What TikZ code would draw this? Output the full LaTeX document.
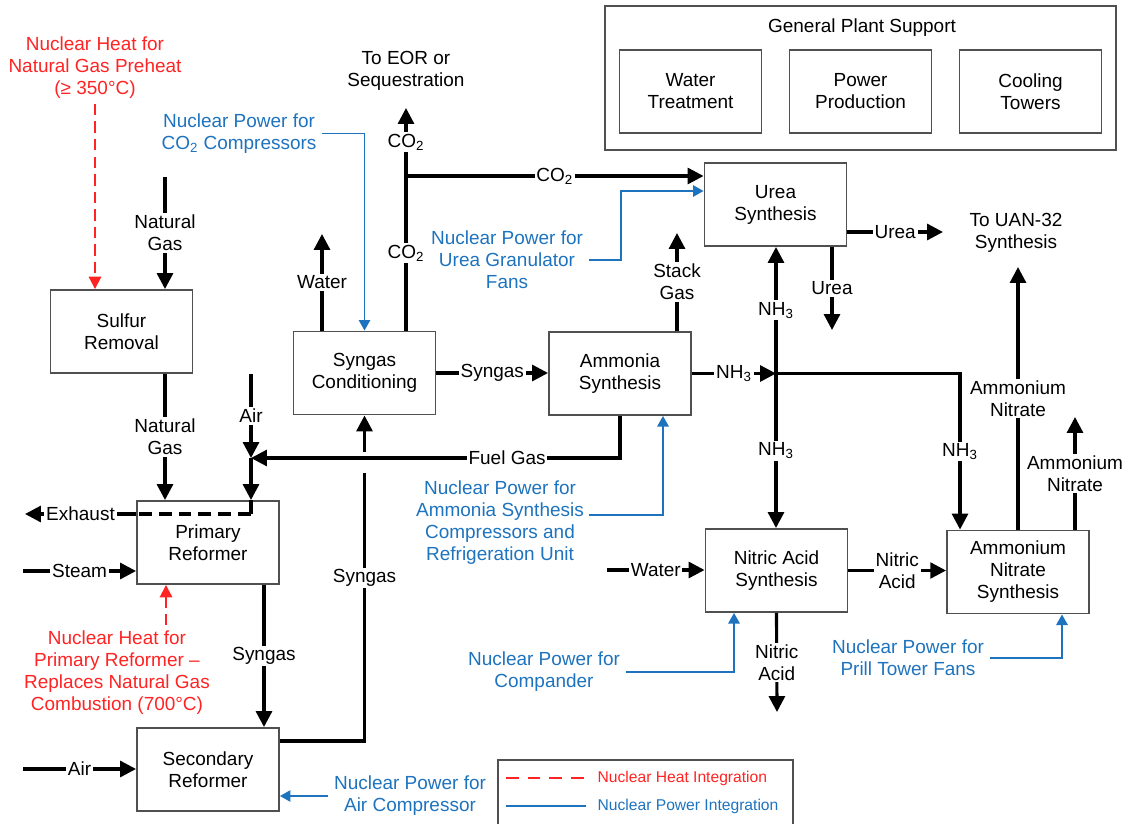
\documentclass[tikz,border=0pt]{standalone}
\usepackage{fontspec}
\setmainfont{Liberation Sans}
\usepackage{xcolor}
\usepackage{tikz}
\usetikzlibrary{arrows.meta}
\definecolor{nred}{RGB}{255,35,35}
\definecolor{nblue}{RGB}{30,115,190}
\definecolor{edge}{RGB}{80,80,80}

\begin{document}
\begin{tikzpicture}[
  x=0.02cm, y=-0.02cm,
  font=\fontsize{10.8}{12.5}\selectfont,
  unit/.style={draw=edge, line width=1.1pt, minimum width=2.84cm,
               minimum height=1.66cm, align=center, inner sep=1pt},
  note/.style={align=center, inner sep=3pt},
  tag/.style={fill=white, inner sep=1pt, align=center},
  pipe/.style={line width=1.8pt},
  flow/.style={-{Triangle[length=9pt,width=9pt]}, line width=1.8pt},
  heat/.style={-{Triangle[length=7pt,width=7pt]}, nred, line width=1.1pt,
               dash pattern=on 6.5pt off 3.5pt},
  power/.style={-{Triangle[length=6pt,width=6.5pt]}, nblue, line width=0.9pt},
]
\useasboundingbox (0,0) rectangle (1125,824);
\clip (0,0) rectangle (1125,824);

% process units
\node[unit] (sulf) at (121.5,331.5) {Sulfur\\Removal};
\node[unit] (prim) at (208,542.5) {Primary\\Reformer};
\node[unit] (sec)  at (208,769.5) {Secondary\\Reformer};
\node[unit] (sync) at (364.5,373) {Syngas\\Conditioning};
\node[unit] (amm)  at (620,373.5) {Ammonia\\Synthesis};
\node[unit] (urea) at (775.5,204.5) {Urea\\Synthesis};
\node[unit] (nitr) at (776.5,570.5) {Nitric Acid\\Synthesis};
\node[unit] (an)   at (1018,572) {Ammonium\\Nitrate\\Synthesis};

% general plant support
\node[unit, minimum width=10.22cm, minimum height=2.88cm] (gps) at (860.5,78) {};
\node[note] (gpst) at (862,28) {General Plant Support};
\node[unit] (wt) at (690.5,91.5) {Water\\Treatment};
\node[unit] (pp) at (860.5,91.5) {Power\\Production};
\node[unit] (ct) at (1030.5,91.5) {Cooling\\Towers};

% destinations
\node[note] (eor) at (406,71) {To EOR or\\Sequestration};
\node[note] (uan) at (1016,232.5) {To UAN-32\\Synthesis};

% nuclear heat and power notes
\node[note, nred] (hng) at (95,67.5) {Nuclear Heat for\\Natural Gas Preheat\\(≥ 350°C)};
\node[note, nred] (hpr) at (117,672.5) {Nuclear Heat for\\Primary Reformer –\\Replaces Natural Gas\\Combustion (700°C)};
\node[note, nblue] (pco2) at (239,133.5) {Nuclear Power for\\CO\textsubscript{2} Compressors};
\node[note, nblue] (pur) at (507,260) {Nuclear Power for\\Urea Granulator\\Fans};
\node[note, nblue] (pamm) at (500,523) {Nuclear Power for\\Ammonia Synthesis\\Compressors and\\Refrigeration Unit};
\node[note, nblue] (pcomp) at (544,672) {Nuclear Power for\\Compander};
\node[note, nblue] (pprill) at (908,658) {Nuclear Power for\\Prill Tower Fans};
\node[note, nblue] (pair) at (410,796) {Nuclear Power for\\Air Compressor};

% free ends and junctions
\coordinate (ngin) at (165,177);
\coordinate (airin) at (251,374);
\coordinate (airj) at (251,458);
\coordinate (exj) at (251,514);
\coordinate (exout) at (25,514);
\coordinate (steamin) at (23,571);
\coordinate (airsec) at (23,769);
\coordinate (hopb) at (364.5,473);
\coordinate (hopt) at (364.5,452);
\coordinate (wout) at (322,234);
\coordinate (co2j) at (406,176);
\coordinate (co2out) at (406,108);
\coordinate (stack) at (677,233);
\coordinate (nh3j) at (776,373.5);
\coordinate (ureaout) at (943,232);
\coordinate (ureadown) at (832,330);
\coordinate (anout) at (1018,267);
\coordinate (anout2) at (1075,417);
\coordinate (nadown) at (777,712);
\coordinate (waterin) at (607,570);
\coordinate (purb) at (621,0);
\coordinate (hx) at ([xshift=-0.84cm]prim.south);

% reforming train
\draw[flow] (ngin) -- node[tag]{Natural\\Gas} (ngin |- sulf.north);
\draw[flow] (ngin |- sulf.south) -- node[tag]{Natural\\Gas} (ngin |- prim.north);
\draw[flow] (airin) -- node[tag]{Air} (airj);
\draw[flow] (airj) -- (airj |- prim.north);
\draw[flow] (amm.south) |- node[tag, pos=0.653]{Fuel Gas} (airj);
\draw[pipe] (airj |- prim.north) -- (exj);
\draw[pipe, dash pattern=on 7.3pt off 4pt] (exj) -- (exj -| prim.west);
\draw[flow] (exj -| prim.west) -- node[tag]{Exhaust} (exout);
\draw[flow] (steamin) -- node[tag]{Steam} (steamin -| prim.west);
\draw[flow] (airsec) -- node[tag]{Air} (airsec -| sec.west);
\draw[flow] ([xshift=1.12cm]prim.south) -- node[tag]{Syngas} ([xshift=1.12cm]sec.north);
\draw[pipe] ([yshift=0.57cm]sec.east) -| node[tag, pos=0.804]{Syngas} (hopb);
\draw[flow] (hopt) -- (sync.south);

% conditioning and synthesis
\draw[flow] (wout |- sync.north) -- node[tag]{Water} (wout);
\draw[pipe] (co2j |- sync.north) -- node[tag]{CO\textsubscript{2}} (co2j);
\draw[flow] (co2j) -- node[tag]{CO\textsubscript{2}} (co2out);
\draw[flow] (co2j) -- node[tag]{CO\textsubscript{2}} (co2j -| urea.west);
\draw[flow] (sync.east) -- node[tag]{Syngas} (sync.east -| amm.west);
\draw[flow] (stack |- amm.north) -- node[tag]{Stack\\Gas} (stack);
\draw[flow] (amm.east) -- node[tag]{NH\textsubscript{3}} (nh3j);
\draw[flow] (nh3j) -- node[tag]{NH\textsubscript{3}} (nh3j |- urea.south);
\draw[flow] (nh3j) -- node[tag]{NH\textsubscript{3}} (nh3j |- nitr.north);
\draw[flow] (nh3j) -| node[tag, pos=0.75]{NH\textsubscript{3}} ([xshift=-1.16cm]an.north);
\draw[flow] (ureaout -| urea.east) -- node[tag]{Urea} (ureaout);
\draw[flow] (ureadown |- urea.south) -- node[tag]{Urea} (ureadown);
\draw[flow] (an.north) -- node[tag]{Ammonium\\Nitrate} (anout);
\draw[flow] (anout2 |- an.north) -- node[tag]{Ammonium\\Nitrate} (anout2);
\draw[flow] (nitr.east) -- node[tag]{Nitric\\Acid} (nitr.east -| an.west);
\draw[flow] (nitr.south) -- node[tag]{Nitric\\Acid} (nadown);
\draw[flow] (waterin) -- node[tag]{Water} (waterin -| nitr.west);

% nuclear heat (dashed red)
\draw[heat] (hng.south) -- (hng.south |- sulf.north);
\draw[heat] (hx |- hpr.north) -- (hx);

% nuclear power (blue)
\draw[power] (pco2.east) -| (sync.north);
\draw[power] (pur.east) -- (pur.east -| purb) |- ([yshift=0.27cm]urea.west);
\draw[power] ([yshift=0.16cm]pamm.east) -| ([xshift=0.86cm]amm.south);
\draw[power] (pcomp.east) -| ([xshift=-0.85cm]nitr.south);
\draw[power] (pprill.east) -| ([xshift=0.88cm]an.south);
\draw[power] (pair.west) -- (pair.west -| sec.east);

% legend
\node[draw=edge, line width=1.1pt, minimum width=5.9cm, minimum height=1.5cm,
      anchor=north west] (leg) at (497,759) {};
\node[note, nred, anchor=west, font=\fontsize{8.9}{10}\selectfont] (legh) at (592,778) {Nuclear Heat Integration};
\node[note, nblue, anchor=west, font=\fontsize{8.9}{10}\selectfont] (legp) at (592,806) {Nuclear Power Integration};
\draw[heat, -, dash pattern=on 7.3pt off 5pt] ([xshift=-1.72cm]legh.west) -- ([xshift=-0.12cm]legh.west);
\draw[power, -] ([xshift=-1.72cm]legp.west) -- ([xshift=-0.12cm]legp.west);
\end{tikzpicture}
\end{document}
